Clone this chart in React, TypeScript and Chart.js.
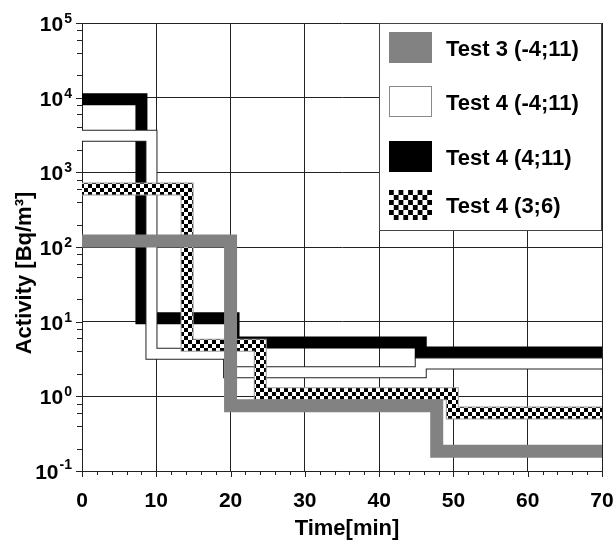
import React, { useEffect, useRef } from 'react';
import { Chart, registerables } from 'chart.js';

Chart.register(...registerables);

// ---- data ----
const xTickValues = [0, 10, 20, 30, 40, 50, 60, 70];
const yTickExponents = [-1, 0, 1, 2, 3, 4, 5];

const test3Times = [0, 20.0, 47.75, 70];
const test3Values = [120, 0.75, 0.184, 0.184];

const test4aTimes = [0, 9.35, 19.8, 45.6, 70];
const test4aValues = [3100, 3.73, 2.1, 2.75, 2.75];

const test4bTimes = [0, 8.0, 20.4, 45.6, 70];
const test4bValues = [9550, 11.1, 5.24, 3.85, 3.85];

const test4cTimes = [0, 14.15, 24.0, 49.85, 70];
const test4cValues = [600, 4.84, 1.08, 0.6, 0.6];

const legendLabels = ['Test 3 (-4;11)', 'Test 4 (-4;11)', 'Test 4 (4;11)', 'Test 4 (3;6)'];
const xTitle = 'Time[min]';
const yTitle = 'Activity [Bq/m³]';

const FONT = '"Liberation Sans", Arial, sans-serif';
const GRID = '#222';
const GRAY = '#828282';

function pts(times: number[], values: number[]) {
  return times.map((t, i) => ({ x: t, y: values[i] }));
}

function makeChecker(size: number): CanvasPattern | string {
  const c = document.createElement('canvas');
  c.width = size * 2;
  c.height = size * 2;
  const g = c.getContext('2d');
  if (!g) return '#000';
  g.fillStyle = '#fff';
  g.fillRect(0, 0, size * 2, size * 2);
  g.fillStyle = '#000';
  g.fillRect(0, 0, size, size);
  g.fillRect(size, size, size, size);
  const p = g.createPattern(c, 'repeat');
  return p || '#000';
}

const decorPlugin = {
  id: 'decor',
  afterDraw(chart: any) {
    const ctx: CanvasRenderingContext2D = chart.ctx;
    const ca = chart.chartArea;
    const xs = chart.scales.x;
    const ys = chart.scales.y;
    ctx.save();

    // ticks
    ctx.strokeStyle = GRID;
    ctx.lineWidth = 1;
    ctx.beginPath();
    for (let v = 0; v <= 70; v += 2) {
      const px = Math.round(xs.getPixelForValue(v)) + 0.5;
      const len = v % 10 === 0 ? 6 : 4;
      ctx.moveTo(px, ca.bottom);
      ctx.lineTo(px, ca.bottom + len);
    }
    for (const e of yTickExponents) {
      const base = Math.pow(10, e);
      const py = Math.round(ys.getPixelForValue(base)) + 0.5;
      ctx.moveTo(ca.left - 6, py);
      ctx.lineTo(ca.left, py);
      if (e < 5) {
        for (const m of [2, 4, 6, 8]) {
          const my = Math.round(ys.getPixelForValue(m * base)) + 0.5;
          ctx.moveTo(ca.left - 5, my);
          ctx.lineTo(ca.left, my);
        }
      }
    }
    ctx.stroke();

    // x tick labels
    ctx.fillStyle = '#000';
    ctx.font = `bold 21px ${FONT}`;
    ctx.textAlign = 'center';
    ctx.textBaseline = 'alphabetic';
    for (const v of xTickValues) {
      ctx.fillText(String(v), xs.getPixelForValue(v), 507);
    }

    // y tick labels with superscripts
    for (const e of yTickExponents) {
      const py = ys.getPixelForValue(Math.pow(10, e));
      const sup = String(e);
      ctx.font = `bold 14px ${FONT}`;
      ctx.textAlign = 'right';
      const supW = ctx.measureText(sup).width;
      ctx.fillText(sup, 72, py + (e === -1 ? -2 : 0));
      ctx.font = `bold 21px ${FONT}`;
      ctx.fillText('10', 72 - supW - 1, py + 8);
    }

    // axis titles
    ctx.font = `bold 22px ${FONT}`;
    ctx.textAlign = 'center';
    ctx.fillText(xTitle, 347, 535);
    ctx.save();
    ctx.translate(31, 273);
    ctx.rotate(-Math.PI / 2);
    ctx.fillText(yTitle, 0, 0);
    ctx.restore();

    // legend box
    const bx = ca.right - 223;
    const by = ca.top;
    const bw = 223;
    const bh = 207;
    ctx.fillStyle = '#fff';
    ctx.fillRect(bx, by, bw, bh);
    ctx.strokeStyle = '#444';
    ctx.lineWidth = 1;
    ctx.strokeRect(bx + 0.5, by + 0.5, bw - 1, bh);

    const swX = bx + 10;
    const swW = 43;
    const swTops = [by + 9, by + 63, by + 118, by + 167];
    const swH = [31, 31, 31, 30];
    // gray
    ctx.fillStyle = GRAY;
    ctx.fillRect(swX, swTops[0], swW, swH[0]);
    // white with border
    ctx.fillStyle = '#fff';
    ctx.fillRect(swX, swTops[1], swW, swH[1]);
    ctx.strokeStyle = '#8a8a8a';
    ctx.strokeRect(swX + 0.5, swTops[1] + 0.5, swW - 1, swH[1] - 1);
    // black
    ctx.fillStyle = '#000';
    ctx.fillRect(swX, swTops[2], swW, swH[2]);
    // checker
    ctx.fillStyle = '#fff';
    ctx.fillRect(swX, swTops[3], swW, swH[3]);
    ctx.fillStyle = '#000';
    const cols = 9;
    const rows = 6;
    const cw = swW / cols;
    const ch = swH[3] / rows;
    for (let r = 0; r < rows; r++) {
      for (let c = 0; c < cols; c++) {
        if ((r + c) % 2 === 0) ctx.fillRect(swX + c * cw, swTops[3] + r * ch, cw, ch);
      }
    }

    ctx.fillStyle = '#000';
    ctx.font = `bold 22px ${FONT}`;
    ctx.textAlign = 'left';
    legendLabels.forEach((lab, i) => {
      const cy = swTops[i] + swH[i] / 2;
      ctx.fillText(lab, swX + 57, cy + 8);
    });

    ctx.restore();
  },
};

export default function App() {
  const ref = useRef<HTMLCanvasElement>(null);

  useEffect(() => {
    const canvas = ref.current;
    if (!canvas) return;
    const checker = makeChecker(4);
    const common = {
      stepped: true,
      pointRadius: 0,
      pointHoverRadius: 0,
      fill: false,
      tension: 0,
      borderJoinStyle: 'miter',
      borderCapStyle: 'butt',
    };
    const chart = new Chart(canvas, {
      type: 'line',
      data: {
        datasets: [
          { ...common, label: legendLabels[0], data: pts(test3Times, test3Values), borderColor: GRAY, borderWidth: 13, order: 0 },
          { ...common, label: legendLabels[3], data: pts(test4cTimes, test4cValues), borderColor: checker, borderWidth: 11, order: 1 },
          { ...common, label: legendLabels[3] + ' edge', data: pts(test4cTimes, test4cValues), borderColor: '#9a9a9a', borderWidth: 13, order: 2 },
          { ...common, label: legendLabels[1], data: pts(test4aTimes, test4aValues), borderColor: '#fff', borderWidth: 10, order: 3 },
          { ...common, label: legendLabels[1] + ' edge', data: pts(test4aTimes, test4aValues), borderColor: '#222', borderWidth: 12, order: 4 },
          { ...common, label: legendLabels[2], data: pts(test4bTimes, test4bValues), borderColor: '#000', borderWidth: 12, order: 5 },
        ] as any,
      },
      options: {
        responsive: false,
        animation: false,
        events: [],
        layout: { padding: { left: 0, top: 23, right: 11, bottom: 0 } },
        plugins: { legend: { display: false }, tooltip: { enabled: false } },
        scales: {
          x: {
            type: 'linear',
            min: 0,
            max: 70,
            afterBuildTicks: (s: any) => {
              s.ticks = xTickValues.map((v) => ({ value: v }));
            },
            afterFit: (s: any) => {
              s.height = 69;
            },
            ticks: { display: false },
            grid: { color: GRID, lineWidth: 1, drawTicks: false },
            border: { display: true, color: GRID, width: 1 },
          },
          y: {
            type: 'logarithmic',
            min: 0.1,
            max: 100000,
            afterBuildTicks: (s: any) => {
              s.ticks = yTickExponents.map((e) => ({ value: Math.pow(10, e) }));
            },
            afterFit: (s: any) => {
              s.width = 82;
            },
            ticks: { display: false },
            grid: { color: GRID, lineWidth: 1, drawTicks: false },
            border: { display: true, color: GRID, width: 1 },
          },
        },
      } as any,
      plugins: [decorPlugin],
    });
    return () => chart.destroy();
  }, []);

  return (
    <div style={{ position: 'fixed', left: 0, top: 0, width: 613, height: 540, background: '#fff' }}>
      <canvas ref={ref} width={613} height={540} style={{ display: 'block' }} />
    </div>
  );
}
